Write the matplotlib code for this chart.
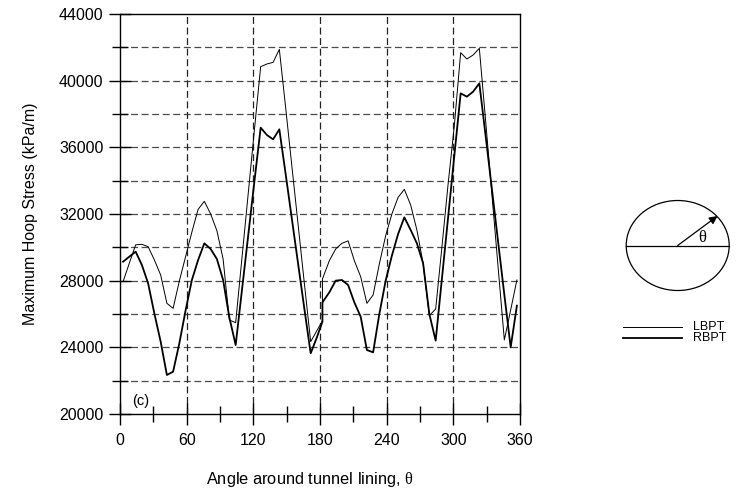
import numpy as np
import matplotlib
matplotlib.use("Agg")
import matplotlib.pyplot as plt
from matplotlib.patches import Ellipse
from matplotlib.ticker import MultipleLocator

plt.rcParams['font.family'] = ['Liberation Sans', 'DejaVu Sans']
plt.rcParams['mathtext.fontset'] = 'custom'
plt.rcParams['mathtext.rm'] = 'Liberation Serif'
plt.rcParams['mathtext.it'] = 'Liberation Serif'
plt.rcParams['lines.scale_dashes'] = False

# Angles (deg) at which the hoop stress was sampled; the curve restarts at ~182 deg
angle = [2.8, 8.4, 14.1, 19.7, 25.3, 30.9, 36.6, 42.2, 47.8, 53.4, 59.1, 64.7,
         70.3, 75.9, 81.6, 87.2, 92.8, 98.4, 104.1, 109.7, 115.3, 120.9, 126.6,
         132.2, 137.8, 143.4, 149.1, 154.7, 160.3, 165.9, 171.6, 177.2, 182.2,
         182.2, 188.4, 194.1, 199.7, 205.3, 210.9, 216.6, 222.2, 227.8, 233.4,
         239.1, 244.7, 250.3, 255.9, 261.6, 267.2, 272.8, 278.4, 284.1, 289.7,
         295.3, 300.9, 306.6, 312.2, 317.8, 323.4, 329.1, 334.7, 340.3, 345.9,
         351.6, 357.2]

lbpt = [27950, 29050, 30150, 30180, 30040, 29250, 28340, 26640, 26340, 27980,
        29460, 30920, 32280, 32760, 32000, 31000, 29300, 25640, 25480, 29320,
        33160, 37000, 40840, 41000, 41100, 41880, 38370, 34860, 31360, 27850,
        24340, 25000, 25600, 28100, 29200, 29900, 30240, 30390, 29200, 28240,
        26640, 27140, 29000, 30700, 32000, 33000, 33480, 32540, 31040, 29040,
        25900, 26300, 30000, 33800, 37300, 41680, 41300, 41540, 41940, 37560,
        33190, 28810, 24440, 26240, 28040]

rbpt = [29140, 29440, 29740, 28940, 27840, 26040, 24340, 22340, 22540, 24240,
        26240, 28040, 29240, 30240, 29900, 29300, 28040, 25800, 24140, 27400,
        30660, 33920, 37180, 36740, 36480, 37080, 34390, 31700, 29010, 26330,
        23640, 24600, 25540, 26700, 27300, 28000, 28040, 27740, 26700, 25840,
        23840, 23700, 26000, 28000, 29500, 30800, 31800, 31040, 30240, 29040,
        26000, 24400, 28100, 31800, 35500, 39240, 39040, 39340, 39840, 36670,
        33500, 30330, 27160, 24000, 26500]

x_ticks = [0, 60, 120, 180, 240, 300, 360]
y_ticks = [20000, 24000, 28000, 32000, 36000, 40000, 44000]

W, H = 739, 494
fig = plt.figure(figsize=(W / 100, H / 100), dpi=100)
ax = fig.add_axes([120 / W, 1 - 414 / H, 400 / W, 400 / H])

ax.plot(angle, lbpt, color='black', lw=0.7, zorder=3)
ax.plot(angle, rbpt, color='black', lw=1.3, zorder=3)

ax.set_xlim(0, 360)
ax.set_ylim(20000, 44000)
ax.set_xticks(x_ticks)
ax.set_yticks(y_ticks)
ax.xaxis.set_minor_locator(MultipleLocator(30))
ax.yaxis.set_minor_locator(MultipleLocator(2000))

dash = (0, (5.0, 2.6))
for yv in np.arange(22000, 44000, 2000):
    ax.axhline(yv, color='#4a4a4a', lw=0.9, linestyle=dash, zorder=1)
for xv in x_ticks[1:-1]:
    ax.axvline(xv, color='#222222', lw=0.9, linestyle=dash, zorder=1)

for s in ax.spines.values():
    s.set_linewidth(1.0)
    s.set_color('black')

ax.tick_params(axis='both', which='major', direction='inout', length=16,
               width=1.0, labelsize=11.5, top=False, right=False)
ax.tick_params(axis='both', which='minor', direction='inout', length=11,
               width=1.0, top=False, right=False)
ax.tick_params(axis='x', which='major', pad=6)
ax.tick_params(axis='y', which='major', pad=4)

ax.set_xlabel(r'Angle around tunnel lining, $\mathrm{\theta}$', fontsize=11.8)
ax.set_ylabel('Maximum Hoop Stress (kPa/m)', fontsize=11.5)
ax.xaxis.set_label_coords(0.474, -0.14)
ax.yaxis.set_label_coords(-0.205, 0.5)

ax.text(11, 20350, '(c)', fontsize=10.5, ha='left', va='bottom')

# decoration overlay in pixel coordinates
ov = fig.add_axes([0, 0, 1, 1])
ov.set_xlim(0, W)
ov.set_ylim(H, 0)
ov.axis('off')
ov.patch.set_visible(False)

cx, cy = 677.7, 245.5
ov.add_patch(Ellipse((cx, cy), 103, 90, fill=False, lw=0.9, color='black'))
ov.plot([cx - 51.5, cx + 51.5], [cy, cy], color='black', lw=0.9)
ov.annotate('', xy=(717.5, 216), xytext=(cx, cy),
            arrowprops=dict(arrowstyle='-|>', color='black', lw=0.9,
                            mutation_scale=12, shrinkA=0, shrinkB=0))
ov.text(703, 237, r'$\mathrm{\theta}$', fontsize=12, ha='center', va='center')

ov.plot([623, 682], [326.7, 326.7], color='black', lw=0.7)
ov.plot([623, 682], [337.7, 337.7], color='black', lw=1.3)
ov.text(692.5, 326.7, 'LBPT', fontsize=9, ha='left', va='center')
ov.text(692.5, 337.7, 'RBPT', fontsize=9, ha='left', va='center')

fig.savefig('out.png', dpi=100)
